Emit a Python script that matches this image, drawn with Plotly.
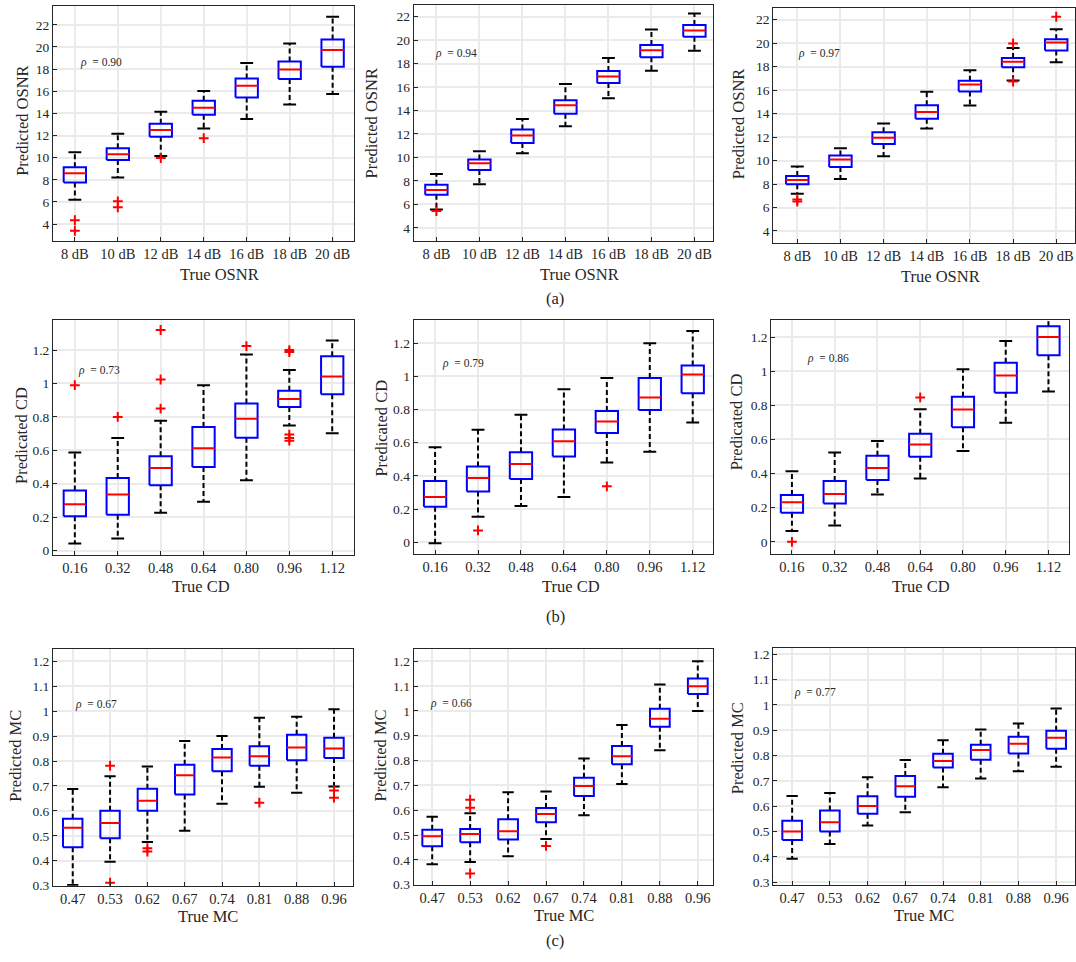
import plotly.graph_objects as go

# ---------------- data ----------------
osnr_labels = ["8 dB", "10 dB", "12 dB", "14 dB", "16 dB", "18 dB", "20 dB"]
cd_labels = ["0.16", "0.32", "0.48", "0.64", "0.80", "0.96", "1.12"]
mc_labels = ["0.47", "0.53", "0.62", "0.67", "0.74", "0.81", "0.88", "0.96"]

# (a) OSNR, panel 1
a1_upper = [10.5, 12.15, 14.15, 16.03, 18.54, 20.3, 22.72]
a1_q3 = [9.13, 10.84, 13.07, 15.13, 17.16, 18.69, 20.66]
a1_med = [8.6, 10.3, 12.5, 14.5, 16.5, 17.97, 19.73]
a1_q1 = [7.76, 9.8, 11.9, 13.88, 15.43, 17.1, 18.2]
a1_lower = [6.2, 8.2, 10.15, 12.63, 13.49, 14.8, 15.76]
a1_out = [[4.36, 3.4], [6.06, 5.52], [9.97], [11.76], [], [], []]
# (a) OSNR, panel 2
a2_upper = [8.58, 10.52, 13.28, 16.26, 18.48, 20.9, 22.28]
a2_q3 = [7.68, 9.82, 12.38, 14.88, 17.36, 19.58, 21.3]
a2_med = [7.23, 9.51, 11.87, 14.46, 16.91, 19.13, 20.82]
a2_q1 = [6.81, 8.92, 11.23, 13.73, 16.35, 18.54, 20.28]
a2_lower = [5.57, 7.71, 10.36, 12.66, 15.05, 17.39, 19.1]
a2_out = [[5.43], [], [], [], [], [], []]
# (a) OSNR, panel 3
a3_upper = [9.49, 11.04, 13.15, 15.86, 17.69, 19.58, 21.18]
a3_q3 = [8.68, 10.42, 12.42, 14.7, 16.79, 18.73, 20.34]
a3_med = [8.34, 10.08, 11.94, 14.14, 16.48, 18.42, 20.06]
a3_q1 = [7.97, 9.46, 11.41, 13.55, 15.89, 17.94, 19.38]
a3_lower = [7.18, 8.42, 10.37, 12.73, 14.68, 16.82, 18.37]
a3_out = [[6.68, 6.51], [], [], [], [], [19.97, 16.73], [22.25]]

# (b) CD, panel 1
b1_upper = [0.587, 0.674, 0.777, 0.99, 1.174, 1.081, 1.257]
b1_q3 = [0.36, 0.435, 0.565, 0.739, 0.88, 0.957, 1.163]
b1_med = [0.277, 0.336, 0.494, 0.613, 0.789, 0.907, 1.042]
b1_q1 = [0.206, 0.214, 0.391, 0.5, 0.676, 0.86, 0.935]
b1_lower = [0.043, 0.073, 0.227, 0.293, 0.421, 0.749, 0.702]
b1_out = [[0.99], [0.80], [1.32, 1.024, 0.85], [], [1.224], [1.2, 1.188, 0.694, 0.674, 0.658], []]
# (b) CD, panel 2
b2_upper = [0.573, 0.678, 0.768, 0.922, 0.99, 1.2, 1.273]
b2_q3 = [0.369, 0.456, 0.543, 0.68, 0.791, 0.99, 1.065]
b2_med = [0.272, 0.387, 0.472, 0.609, 0.728, 0.873, 1.011]
b2_q1 = [0.214, 0.305, 0.381, 0.516, 0.658, 0.797, 0.898]
b2_lower = [-0.006, 0.153, 0.218, 0.272, 0.48, 0.545, 0.722]
b2_out = [[], [0.071], [], [], [0.337], [], []]
# (b) CD, panel 3
b3_upper = [0.414, 0.524, 0.591, 0.777, 1.011, 1.177, 1.34]
b3_q3 = [0.274, 0.357, 0.504, 0.634, 0.85, 1.049, 1.264]
b3_med = [0.232, 0.28, 0.433, 0.57, 0.775, 0.974, 1.2]
b3_q1 = [0.17, 0.224, 0.363, 0.499, 0.672, 0.873, 1.094]
b3_lower = [0.064, 0.095, 0.278, 0.371, 0.533, 0.698, 0.881]
b3_out = [[0.0], [], [], [0.846], [], [], []]

# (c) MC, panel 1
c1_upper = [0.688, 0.739, 0.778, 0.88, 0.9, 0.974, 0.978, 1.008]
c1_q3 = [0.568, 0.601, 0.689, 0.785, 0.848, 0.859, 0.905, 0.893]
c1_med = [0.532, 0.551, 0.641, 0.743, 0.814, 0.819, 0.854, 0.85]
c1_q1 = [0.454, 0.49, 0.601, 0.666, 0.759, 0.781, 0.803, 0.812]
c1_lower = [0.303, 0.396, 0.475, 0.52, 0.629, 0.697, 0.673, 0.698]
c1_out = [[], [0.781, 0.312], [0.45, 0.437], [], [], [0.633], [], [0.682, 0.653]]
# (c) MC, panel 2
c2_upper = [0.574, 0.588, 0.672, 0.675, 0.808, 0.943, 1.106, 1.2]
c2_q3 = [0.521, 0.524, 0.564, 0.609, 0.731, 0.859, 1.009, 1.131]
c2_med = [0.495, 0.504, 0.515, 0.585, 0.698, 0.817, 0.968, 1.099]
c2_q1 = [0.455, 0.471, 0.482, 0.551, 0.657, 0.785, 0.936, 1.068]
c2_lower = [0.382, 0.391, 0.414, 0.484, 0.58, 0.706, 0.842, 1.0]
c2_out = [[], [0.642, 0.61, 0.345], [], [0.456], [], [], [], []]
# (c) MC, panel 3
c3_upper = [0.64, 0.652, 0.714, 0.782, 0.86, 0.903, 0.926, 0.986]
c3_q3 = [0.542, 0.583, 0.639, 0.719, 0.807, 0.842, 0.874, 0.898]
c3_med = [0.5, 0.536, 0.601, 0.679, 0.778, 0.822, 0.846, 0.87]
c3_q1 = [0.466, 0.5, 0.57, 0.637, 0.753, 0.783, 0.808, 0.827]
c3_lower = [0.392, 0.451, 0.524, 0.576, 0.675, 0.709, 0.738, 0.756]
c3_out = [[], [], [], [], [], [], [], []]

rho_text = ["0.90", "0.94", "0.97", "0.73", "0.79", "0.86", "0.67", "0.66", "0.77"]
x_titles = ["True OSNR"] * 3 + ["True CD"] * 3 + ["True MC"] * 3
y_titles = ["Predicted OSNR"] * 3 + ["Predicated CD"] * 3 + ["Predicted MC"] * 3
sub_labels = ["(a)", "(b)", "(c)"]

# ---------------- layout (pixel geometry) ----------------
W, H = 1076, 962
FONT = "Liberation Serif"
TXT = "#262626"
BLUE, RED, BLACK = "#0000ff", "#ff0000", "#000000"

# plot area per panel: left, right, top, bottom (px)
boxes_px = [(53, 354, 5, 242), (414, 714, 4, 242), (774, 1076, 7, 244),
            (53, 354, 322, 559), (414, 714, 322, 558), (772, 1070, 322, 558),
            (53, 353, 654, 893), (414, 714, 654, 892), (774, 1076, 653, 892)]
x_ranges = [[-0.51, 6.49], [-0.53, 6.44], [-0.556, 6.435],
            [-0.51, 6.5], [-0.5, 6.48], [-0.483, 6.48],
            [-0.53, 7.5], [-0.49, 7.41], [-0.5, 7.5]]
y_ranges = [[2.5, 23.7], [2.9, 23.0], [3.0, 23.0],
            [-0.025, 1.38], [-0.07, 1.34], [-0.07, 1.30],
            [0.3, 1.25], [0.3, 1.25], [0.29, 1.225]]
y_dticks = [2, 2, 2, 0.2, 0.2, 0.2, 0.1, 0.1, 0.1]
rho_px = [(78, 62), (433, 53), (797, 53), (76, 373), (440, 366), (806, 361),
          (73, 710), (428, 709), (793, 698)]
xtitle_px = [(220, 276), (580, 276), (941, 278), (201, 591), (572, 591), (922, 591),
             (208, 924), (565, 923), (925, 923)]
ytitle_px = [(23, 121), (372, 124), (740, 124), (22, 438), (382, 431), (737, 425),
             (16, 762), (381, 762), (739, 754)]
sub_px = [(556, 300), (556, 621), (556, 948)]

panels = [
    (osnr_labels, a1_upper, a1_q3, a1_med, a1_q1, a1_lower, a1_out),
    (osnr_labels, a2_upper, a2_q3, a2_med, a2_q1, a2_lower, a2_out),
    (osnr_labels, a3_upper, a3_q3, a3_med, a3_q1, a3_lower, a3_out),
    (cd_labels, b1_upper, b1_q3, b1_med, b1_q1, b1_lower, b1_out),
    (cd_labels, b2_upper, b2_q3, b2_med, b2_q1, b2_lower, b2_out),
    (cd_labels, b3_upper, b3_q3, b3_med, b3_q1, b3_lower, b3_out),
    (mc_labels, c1_upper, c1_q3, c1_med, c1_q1, c1_lower, c1_out),
    (mc_labels, c2_upper, c2_q3, c2_med, c2_q1, c2_lower, c2_out),
    (mc_labels, c3_upper, c3_q3, c3_med, c3_q1, c3_lower, c3_out),
]

fig = go.Figure()
annotations = []
BW = 0.26   # half box width (category units)
CW = 0.15   # half cap width


def paper(px, py):
    return px / W, 1 - py / H


for k, (labels, up, q3, med, q1, lo, out) in enumerate(panels):
    n = len(labels)
    xa = "x" if k == 0 else f"x{k+1}"
    ya = "y" if k == 0 else f"y{k+1}"
    idx = list(range(n))

    wx, wy, bx, by, mx, my, cx, cy, ox, oy = [], [], [], [], [], [], [], [], [], []
    for i in idx:
        wx += [i, i, None, i, i, None]
        wy += [q3[i], up[i], None, q1[i], lo[i], None]
        bx += [i - BW, i + BW, i + BW, i - BW, i - BW, None]
        by += [q1[i], q1[i], q3[i], q3[i], q1[i], None]
        mx += [i - BW, i + BW, None]
        my += [med[i], med[i], None]
        cx += [i - CW, i + CW, None, i - CW, i + CW, None]
        cy += [up[i], up[i], None, lo[i], lo[i], None]
        for v in out[i]:
            ox.append(i)
            oy.append(v)

    common = dict(xaxis=xa, yaxis=ya, showlegend=False, hoverinfo="skip")
    fig.add_trace(go.Scatter(x=wx, y=wy, mode="lines",
                             line=dict(color=BLACK, width=2, dash="5px,3px"), **common))
    fig.add_trace(go.Scatter(x=cx, y=cy, mode="lines",
                             line=dict(color=BLACK, width=2), **common))
    fig.add_trace(go.Scatter(x=bx, y=by, mode="lines",
                             line=dict(color=BLUE, width=2), **common))
    fig.add_trace(go.Scatter(x=mx, y=my, mode="lines",
                             line=dict(color=RED, width=2), **common))
    fig.add_trace(go.Scatter(x=ox, y=oy, mode="markers",
                             marker=dict(symbol="cross-thin", size=7, color=RED,
                                         line=dict(color=RED, width=2)), **common))

    l, r, t, b = boxes_px[k]
    axis_common = dict(showline=True, mirror=True, linecolor=TXT, linewidth=1,
                       showgrid=True, gridcolor="#ebebeb", gridwidth=1.5,
                       ticks="inside", ticklen=4, tickcolor=TXT, zeroline=False)
    xkey = "xaxis" if k == 0 else f"xaxis{k+1}"
    ykey = "yaxis" if k == 0 else f"yaxis{k+1}"
    fig.layout[xkey] = dict(domain=[l / W, min(r / W, 1.0)], anchor=ya, range=x_ranges[k],
                            tickmode="array", tickvals=idx, ticktext=labels,
                            tickfont=dict(family=FONT, size=14.5, color=TXT),
                            **axis_common)
    fig.layout[ykey] = dict(domain=[1 - b / H, 1 - t / H], anchor=xa, range=y_ranges[k],
                            tick0=0, dtick=y_dticks[k],
                            tickfont=dict(family=FONT, size=13.5, color=TXT),
                            **axis_common)

    rx, ry = paper(*rho_px[k])
    annotations.append(dict(x=rx, y=ry, xref="paper", yref="paper",
                            xanchor="left", yanchor="middle", showarrow=False,
                            text=f"<i>ρ</i>  = {rho_text[k]}",
                            font=dict(family=FONT, size=11.5, color=TXT)))
    tx, ty = paper(*xtitle_px[k])
    annotations.append(dict(x=tx, y=ty, xref="paper", yref="paper",
                            xanchor="center", yanchor="middle", showarrow=False,
                            text=x_titles[k],
                            font=dict(family=FONT, size=16.5, color=TXT)))
    tx, ty = paper(*ytitle_px[k])
    annotations.append(dict(x=tx, y=ty, xref="paper", yref="paper",
                            xanchor="center", yanchor="middle", showarrow=False,
                            textangle=-90, text=y_titles[k],
                            font=dict(family=FONT, size=16.5, color=TXT)))

for lab, (sx, sy) in zip(sub_labels, sub_px):
    px_, py_ = paper(sx, sy)
    annotations.append(dict(x=px_, y=py_, xref="paper", yref="paper",
                            xanchor="center", yanchor="middle", showarrow=False, text=lab,
                            font=dict(family=FONT, size=16.5, color=TXT)))

fig.update_layout(width=W, height=H, margin=dict(l=0, r=0, t=0, b=0),
                  paper_bgcolor="white", plot_bgcolor="white",
                  font=dict(family=FONT, color=TXT),
                  annotations=annotations)

fig.write_html("out.html",
               config={"displayModeBar": False},
               post_script="document.body.style.margin='0';"
                           "document.body.style.overflow='hidden';")
